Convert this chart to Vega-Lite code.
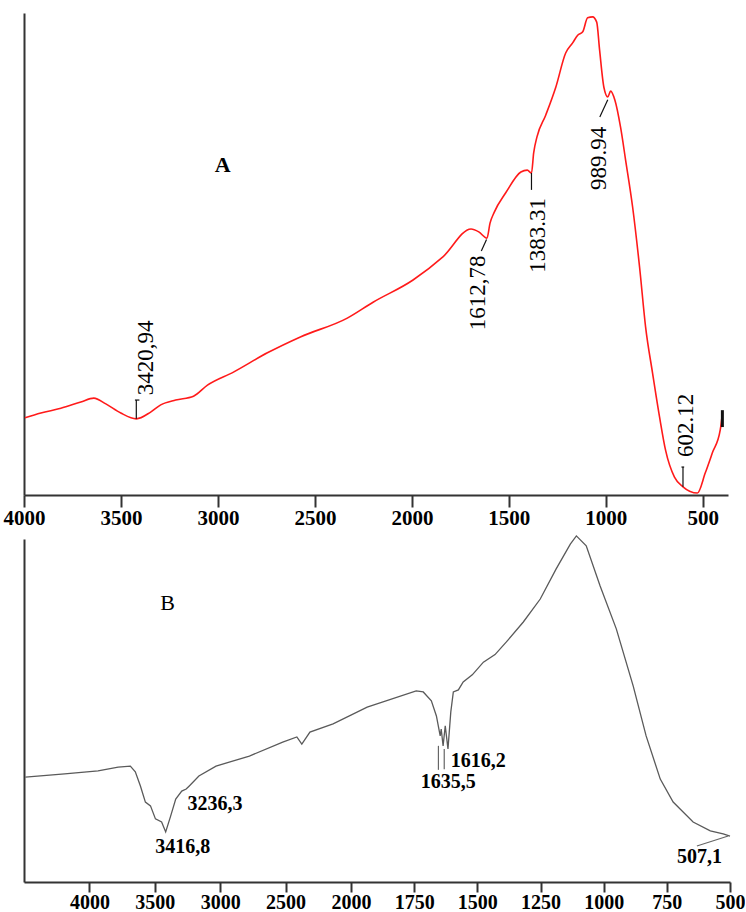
{
  "$schema": "https://vega.github.io/schema/vega-lite/v6.json",
  "background": "white",
  "padding": {"left": 3, "top": 13, "right": 0, "bottom": 0},
  "bounds": "flush",
  "spacing": 44,
  "config": {
    "view": {"stroke": null},
    "axis": {
      "grid": false,
      "domainColor": "#333333",
      "domainWidth": 2,
      "tickColor": "#333333",
      "tickWidth": 2,
      "tickSize": 12,
      "labelFont": "Liberation Serif",
      "labelFontWeight": "bold",
      "labelFontSize": 21,
      "labelColor": "#000000",
      "labelPadding": 0,
      "labelFlush": false,
      "labelOverlap": false,
      "format": "d"
    }
  },
  "datasets": {
    "spectrumA": [
      {"wavenumber": 3995, "transmittance": 16.0},
      {"wavenumber": 3913, "transmittance": 17.0},
      {"wavenumber": 3810, "transmittance": 18.0},
      {"wavenumber": 3707, "transmittance": 19.3},
      {"wavenumber": 3640, "transmittance": 20.1},
      {"wavenumber": 3578, "transmittance": 18.9},
      {"wavenumber": 3501, "transmittance": 17.0},
      {"wavenumber": 3420.94, "transmittance": 15.8},
      {"wavenumber": 3347, "transmittance": 17.2},
      {"wavenumber": 3295, "transmittance": 18.7},
      {"wavenumber": 3218, "transmittance": 19.7},
      {"wavenumber": 3126, "transmittance": 20.5},
      {"wavenumber": 3054, "transmittance": 22.8},
      {"wavenumber": 2920, "transmittance": 25.5},
      {"wavenumber": 2745, "transmittance": 29.5},
      {"wavenumber": 2575, "transmittance": 32.8},
      {"wavenumber": 2333, "transmittance": 36.7},
      {"wavenumber": 2200, "transmittance": 40.0},
      {"wavenumber": 1994, "transmittance": 44.6},
      {"wavenumber": 1840, "transmittance": 49.4},
      {"wavenumber": 1695, "transmittance": 55.2},
      {"wavenumber": 1655, "transmittance": 54.6},
      {"wavenumber": 1612.78, "transmittance": 53.3},
      {"wavenumber": 1597, "transmittance": 56.4},
      {"wavenumber": 1575, "transmittance": 58.7},
      {"wavenumber": 1516, "transmittance": 62.7},
      {"wavenumber": 1438, "transmittance": 67.0},
      {"wavenumber": 1405, "transmittance": 67.4},
      {"wavenumber": 1383.31, "transmittance": 66.8},
      {"wavenumber": 1372, "transmittance": 71.0},
      {"wavenumber": 1355, "transmittance": 74.3},
      {"wavenumber": 1310, "transmittance": 78.8},
      {"wavenumber": 1258, "transmittance": 84.6},
      {"wavenumber": 1207, "transmittance": 91.7},
      {"wavenumber": 1171, "transmittance": 93.8},
      {"wavenumber": 1145, "transmittance": 95.4},
      {"wavenumber": 1119, "transmittance": 96.1},
      {"wavenumber": 1094, "transmittance": 99.0},
      {"wavenumber": 1068, "transmittance": 99.2},
      {"wavenumber": 1047, "transmittance": 98.1},
      {"wavenumber": 1032, "transmittance": 92.3},
      {"wavenumber": 1010, "transmittance": 84.6},
      {"wavenumber": 989.94, "transmittance": 82.6},
      {"wavenumber": 975, "transmittance": 83.8},
      {"wavenumber": 953, "transmittance": 81.9},
      {"wavenumber": 924, "transmittance": 76.3},
      {"wavenumber": 898, "transmittance": 69.5},
      {"wavenumber": 862, "transmittance": 59.8},
      {"wavenumber": 826, "transmittance": 47.3},
      {"wavenumber": 795, "transmittance": 34.9},
      {"wavenumber": 759, "transmittance": 25.3},
      {"wavenumber": 723, "transmittance": 16.2},
      {"wavenumber": 692, "transmittance": 9.3},
      {"wavenumber": 646, "transmittance": 3.7},
      {"wavenumber": 602.12, "transmittance": 1.7},
      {"wavenumber": 528, "transmittance": 0.4},
      {"wavenumber": 487, "transmittance": 4.6},
      {"wavenumber": 451, "transmittance": 8.7},
      {"wavenumber": 410, "transmittance": 13.5},
      {"wavenumber": 399, "transmittance": 17.0}
    ],
    "leadersA": [
      {"wn1": 3420.94, "t1": 15.8, "wn2": 3420.94, "t2": 19.7, "w": 1.2},
      {"wn1": 3428, "t1": 19.7, "wn2": 3405, "t2": 19.7, "w": 1.2},
      {"wn1": 1615, "t1": 53.0, "wn2": 1642, "t2": 50.6, "w": 1.2},
      {"wn1": 1383.31, "t1": 66.8, "wn2": 1383.31, "t2": 63.3, "w": 1.2},
      {"wn1": 989.94, "t1": 82.0, "wn2": 1031, "t2": 78.4, "w": 1.2},
      {"wn1": 602.12, "t1": 1.7, "wn2": 602.12, "t2": 5.8, "w": 1.2},
      {"wn1": 610, "t1": 5.8, "wn2": 596, "t2": 5.8, "w": 1.2},
      {"wn1": 399, "t1": 17.6, "wn2": 399, "t2": 14.1, "w": 3}
    ],
    "peaksA": [
      {"wn": 3372, "t": 20.7, "label": "3420,94"},
      {"wn": 1660, "t": 34.2, "label": "1612,78"},
      {"wn": 1352, "t": 46.1, "label": "1383.31"},
      {"wn": 1037, "t": 63.3, "label": "989.94"},
      {"wn": 584, "t": 7.9, "label": "602.12"}
    ],
    "titleA": [{"wn": 2976, "t": 68.5, "label": "A"}],
    "spectrumB": [
      {"wavenumber": 4490, "transmittance": 30.6},
      {"wavenumber": 4189, "transmittance": 31.5},
      {"wavenumber": 3934, "transmittance": 32.4},
      {"wavenumber": 3780, "transmittance": 33.5},
      {"wavenumber": 3687, "transmittance": 33.8},
      {"wavenumber": 3649, "transmittance": 32.1},
      {"wavenumber": 3610, "transmittance": 28.0},
      {"wavenumber": 3572, "transmittance": 23.3},
      {"wavenumber": 3533, "transmittance": 22.2},
      {"wavenumber": 3495, "transmittance": 18.4},
      {"wavenumber": 3448, "transmittance": 17.5},
      {"wavenumber": 3416.8, "transmittance": 14.6},
      {"wavenumber": 3379, "transmittance": 19.2},
      {"wavenumber": 3340, "transmittance": 24.2},
      {"wavenumber": 3294, "transmittance": 26.5},
      {"wavenumber": 3260, "transmittance": 27.1},
      {"wavenumber": 3236.3, "transmittance": 28.0},
      {"wavenumber": 3163, "transmittance": 30.9},
      {"wavenumber": 3032, "transmittance": 33.8},
      {"wavenumber": 2777, "transmittance": 36.7},
      {"wavenumber": 2522, "transmittance": 40.8},
      {"wavenumber": 2414, "transmittance": 42.3},
      {"wavenumber": 2376, "transmittance": 40.2},
      {"wavenumber": 2314, "transmittance": 43.7},
      {"wavenumber": 2137, "transmittance": 46.1},
      {"wavenumber": 1936, "transmittance": 51.0},
      {"wavenumber": 1742, "transmittance": 55.7},
      {"wavenumber": 1714, "transmittance": 55.4},
      {"wavenumber": 1682, "transmittance": 52.8},
      {"wavenumber": 1662, "transmittance": 48.4},
      {"wavenumber": 1647, "transmittance": 42.6},
      {"wavenumber": 1643, "transmittance": 44.6},
      {"wavenumber": 1635.5, "transmittance": 39.7},
      {"wavenumber": 1627, "transmittance": 45.5},
      {"wavenumber": 1616.2, "transmittance": 38.8},
      {"wavenumber": 1605, "transmittance": 49.6},
      {"wavenumber": 1595, "transmittance": 55.4},
      {"wavenumber": 1575, "transmittance": 56.0},
      {"wavenumber": 1556, "transmittance": 58.3},
      {"wavenumber": 1520, "transmittance": 60.4},
      {"wavenumber": 1476, "transmittance": 64.1},
      {"wavenumber": 1430, "transmittance": 66.3},
      {"wavenumber": 1385, "transmittance": 70.0},
      {"wavenumber": 1318, "transmittance": 75.8},
      {"wavenumber": 1251, "transmittance": 82.5},
      {"wavenumber": 1188, "transmittance": 91.3},
      {"wavenumber": 1132, "transmittance": 98.5},
      {"wavenumber": 1108, "transmittance": 100.9},
      {"wavenumber": 1069, "transmittance": 98.0},
      {"wavenumber": 1014, "transmittance": 86.3},
      {"wavenumber": 950, "transmittance": 73.8},
      {"wavenumber": 883, "transmittance": 57.1},
      {"wavenumber": 832, "transmittance": 42.6},
      {"wavenumber": 776, "transmittance": 30.0},
      {"wavenumber": 725, "transmittance": 23.3},
      {"wavenumber": 646, "transmittance": 17.5},
      {"wavenumber": 578, "transmittance": 14.9},
      {"wavenumber": 527, "transmittance": 14.0},
      {"wavenumber": 500, "transmittance": 13.4}
    ],
    "leadersB": [
      {"wn1": 1654, "t1": 39.7, "wn2": 1654, "t2": 32.7},
      {"wn1": 1631, "t1": 38.8, "wn2": 1631, "t2": 32.9},
      {"wn1": 507.1, "t1": 13.4, "wn2": 631, "t2": 10.5}
    ],
    "peaksB": [
      {"wn": 3286, "t": 10.2, "label": "3416,8"},
      {"wn": 3039, "t": 22.7, "label": "3236,3"},
      {"wn": 1496, "t": 35.3, "label": "1616,2"},
      {"wn": 1615, "t": 29.2, "label": "1635,5"},
      {"wn": 621, "t": 7.3, "label": "507,1"}
    ],
    "titleB": [{"wn": 3402, "t": 81.3, "label": "B"}]
  },
  "vconcat": [
    {
      "width": 704,
      "height": 482,
      "layer": [
        {
          "data": {"name": "spectrumA"},
          "mark": {"type": "line", "color": "#ff1a1a", "strokeWidth": 1.6, "interpolate": "monotone"},
          "encoding": {
            "x": {
              "field": "wavenumber",
              "type": "quantitative",
              "title": null,
              "scale": {"domain": [4000, 370], "nice": false, "zero": false},
              "axis": {"values": [4000, 3500, 3000, 2500, 2000, 1500, 1000, 500]}
            },
            "y": {
              "field": "transmittance",
              "type": "quantitative",
              "title": null,
              "scale": {"domain": [0, 100], "nice": false, "zero": false},
              "axis": {"labels": false, "ticks": false}
            }
          }
        },
        {
          "data": {"name": "leadersA"},
          "mark": {"type": "rule", "color": "#111111"},
          "encoding": {
            "x": {"field": "wn1", "type": "quantitative"},
            "x2": {"field": "wn2"},
            "y": {"field": "t1", "type": "quantitative"},
            "y2": {"field": "t2"},
            "strokeWidth": {"field": "w", "type": "quantitative", "scale": null}
          }
        },
        {
          "data": {"name": "peaksA"},
          "mark": {"type": "text", "angle": 270, "align": "left", "baseline": "middle", "font": "Liberation Serif", "fontSize": 23, "color": "#000000"},
          "encoding": {
            "x": {"field": "wn", "type": "quantitative"},
            "y": {"field": "t", "type": "quantitative"},
            "text": {"field": "label"}
          }
        },
        {
          "data": {"name": "titleA"},
          "mark": {"type": "text", "align": "center", "baseline": "middle", "font": "Liberation Serif", "fontWeight": "bold", "fontSize": 22, "color": "#000000"},
          "encoding": {
            "x": {"field": "wn", "type": "quantitative"},
            "y": {"field": "t", "type": "quantitative"},
            "text": {"field": "label"}
          }
        }
      ]
    },
    {
      "width": 706,
      "height": 343,
      "layer": [
        {
          "data": {"name": "spectrumB"},
          "mark": {"type": "line", "color": "#5a5a5a", "strokeWidth": 1.3},
          "encoding": {
            "x": {
              "field": "wavenumber",
              "type": "quantitative",
              "title": null,
              "scale": {"domain": [4500, 2000, 500], "range": [0, 327, 706], "nice": false, "zero": false},
              "axis": {"values": [4000, 3500, 3000, 2500, 2000, 1750, 1500, 1250, 1000, 750, 500], "tickSize": 10, "labelFontSize": 20}
            },
            "y": {
              "field": "transmittance",
              "type": "quantitative",
              "title": null,
              "scale": {"domain": [0, 100], "nice": false, "zero": false},
              "axis": {"labels": false, "ticks": false}
            }
          }
        },
        {
          "data": {"name": "leadersB"},
          "mark": {"type": "rule", "color": "#666666", "strokeWidth": 1.2},
          "encoding": {
            "x": {"field": "wn1", "type": "quantitative"},
            "x2": {"field": "wn2"},
            "y": {"field": "t1", "type": "quantitative"},
            "y2": {"field": "t2"}
          }
        },
        {
          "data": {"name": "peaksB"},
          "mark": {"type": "text", "align": "center", "baseline": "middle", "font": "Liberation Serif", "fontWeight": "bold", "fontSize": 20, "color": "#000000"},
          "encoding": {
            "x": {"field": "wn", "type": "quantitative"},
            "y": {"field": "t", "type": "quantitative"},
            "text": {"field": "label"}
          }
        },
        {
          "data": {"name": "titleB"},
          "mark": {"type": "text", "align": "center", "baseline": "middle", "font": "Liberation Serif", "fontSize": 22, "color": "#000000"},
          "encoding": {
            "x": {"field": "wn", "type": "quantitative"},
            "y": {"field": "t", "type": "quantitative"},
            "text": {"field": "label"}
          }
        }
      ]
    }
  ]
}
